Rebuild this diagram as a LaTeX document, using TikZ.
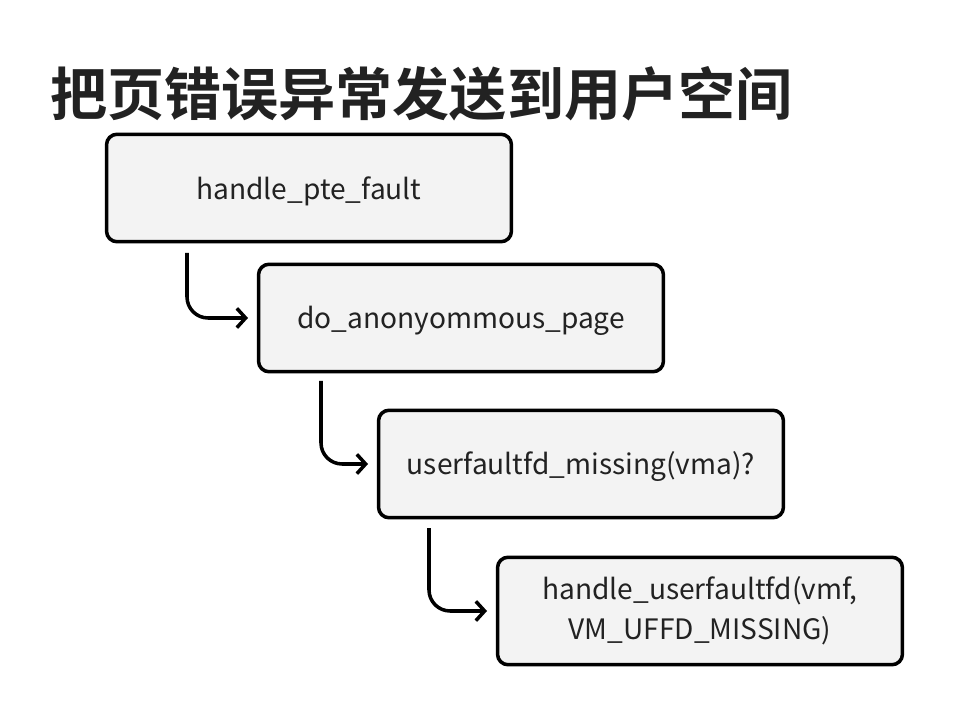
\documentclass[tikz,border=0pt]{standalone}
\usepackage{fontspec}
\setmainfont{Noto Sans CJK SC}
\newfontfamily\titlefont{Noto Sans CJK SC}[BoldFont={Noto Sans CJK SC Bold}]
\usetikzlibrary{arrows.meta}
\definecolor{boxgray}{HTML}{F3F3F3}
\definecolor{inkdark}{HTML}{222222}

\begin{document}
\begin{tikzpicture}[x=0.02cm, y=-0.02cm,
	box/.style={draw=black, line width=2pt, rounded corners=6pt, fill=boxgray,
		minimum width=8.1cm, minimum height=2.15cm, text=inkdark, align=center,
		execute at begin node={\rule{0pt}{16.5pt}},
		font=\fontsize{16}{22.5}\selectfont},
	arr/.style={-{Straight Barb[length=5pt, width=11pt]}, line width=2pt, rounded corners=12pt}]
	\useasboundingbox (0,0) rectangle (954,716);
	
	\node[anchor=west, text=inkdark, font=\titlefont\bfseries\fontsize{32.5}{36}\selectfont] (title) at (44,94) {把页错误异常发送到用户空间};
	
	\node[box] (pte) at (309,188) {handle\_pte\_fault};
	\node[box] (anon) at (461,318) {do\_anonyommous\_page};
	\node[box] (miss) at (581,464) {userfaultfd\_missing(vma)?};
	\node[box] (uffd) at (700,611) {handle\_userfaultfd(vmf,\\VM\_UFFD\_MISSING)};
	
	\coordinate (s1) at (187,253);
	\draw[arr] (s1) |- ([xshift=-5pt]anon.west);
	
	\coordinate (s2) at (321,381);
	\draw[arr] (s2) |- ([xshift=-5pt]miss.west);
	
	\coordinate (s3) at (429,528);
	\draw[arr] (s3) |- ([xshift=-5pt]uffd.west);
	
\end{tikzpicture}
\end{document}
